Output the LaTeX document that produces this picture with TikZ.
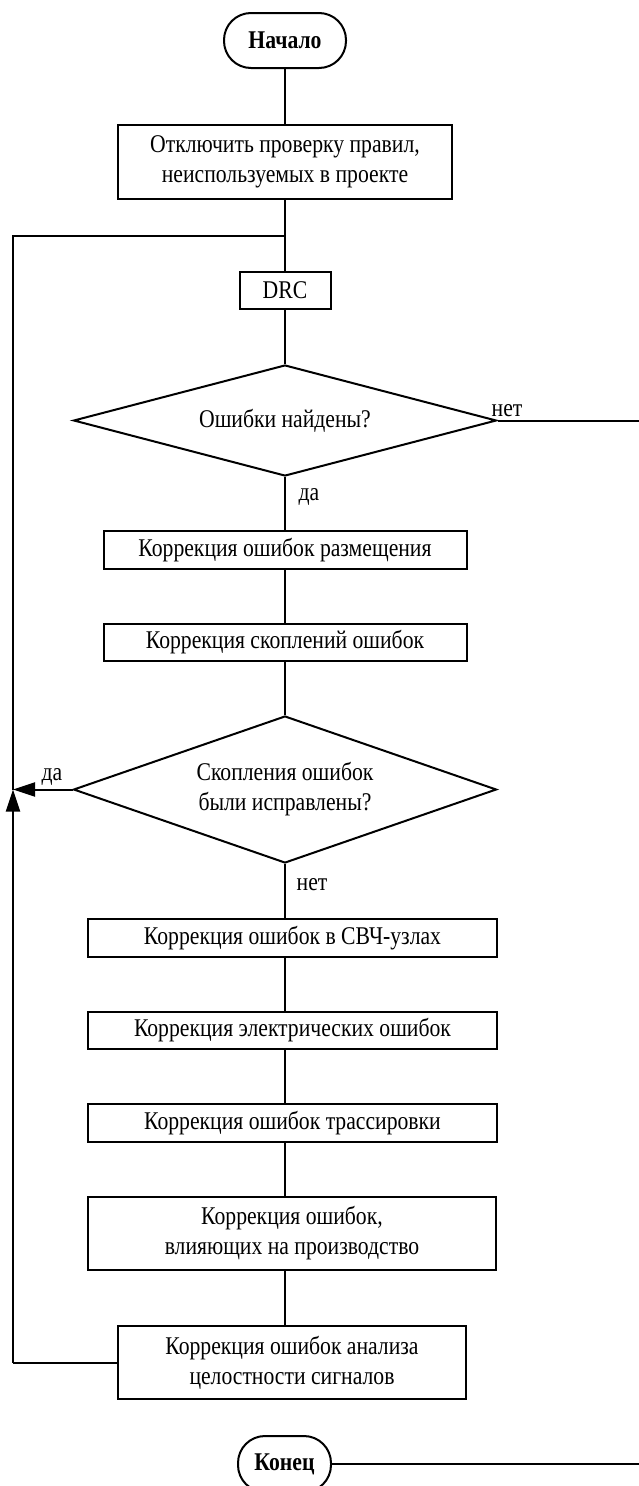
\documentclass[tikz,border=0pt]{standalone}
\usepackage{fontspec}
\setmainfont{Liberation Serif}[FakeStretch=0.85]
\usetikzlibrary{shapes.geometric,arrows.meta}
\begin{document}
\begin{tikzpicture}[x=1pt,y=-1pt,
  every node/.style={font=\fontsize{25.5}{30}\selectfont},
  line/.style={line width=2pt},
  proc/.style={draw,line width=2pt,rectangle,inner sep=0pt,align=center},
  term/.style={draw,line width=2pt,rectangle,rounded corners=27pt,inner sep=0pt,font=\fontsize{25.5}{30}\selectfont\bfseries},
  decis/.style={draw,line width=2pt,diamond,inner sep=0pt,align=center},
  lbl/.style={inner sep=0pt},
  arr/.style={line width=2pt,-{Triangle[length=22pt,width=14pt]}}
]
\useasboundingbox (0,0) rectangle (639,1486);
\node[term,minimum width=122pt,minimum height=55pt] (start) at (285,40.5) {Начало};
\node[proc,minimum width=334pt,minimum height=74pt] (b1) at (285,162) {Отключить проверку правил,\\неиспользуемых в проекте};
\coordinate (J) at (285,236);
\coordinate (JL) at (13,236);
\node[proc,minimum width=91pt,minimum height=37pt] (drc) at (285,290.5) {DRC};
\node[decis,minimum width=423pt,minimum height=111pt,aspect=3.81] (d1) at (285,420.5) {Ошибки найдены?};
\coordinate (NR) at (639,420.5);
\node[proc,minimum width=363pt,minimum height=38pt] (b2) at (285,550) {Коррекция ошибок размещения};
\node[proc,minimum width=363pt,minimum height=37pt] (b3) at (285,642.5) {Коррекция скоплений ошибок};
\node[decis,minimum width=423pt,minimum height=147pt,aspect=2.88] (d2) at (285,789.5) {Скопления ошибок\\были исправлены?};
\coordinate (ML) at (13,789.5);
\node[proc,minimum width=409pt,minimum height=38pt] (b4) at (292.5,938) {Коррекция ошибок в СВЧ-узлах};
\node[proc,minimum width=409pt,minimum height=37pt] (b5) at (292.5,1030.5) {Коррекция электрических ошибок};
\node[proc,minimum width=409pt,minimum height=38pt] (b6) at (292.5,1123) {Коррекция ошибок трассировки};
\node[proc,minimum width=408pt,minimum height=73pt] (b7) at (292,1233.5) {Коррекция ошибок,\\влияющих на производство};
\node[proc,minimum width=348pt,minimum height=73pt] (b8) at (292,1362.5) {Коррекция ошибок анализа\\целостности сигналов};
\coordinate (BL) at (13,1362.5);
\node[term,minimum width=93pt,minimum height=56pt] (end) at (284.5,1464) {Конец};
\coordinate (ER) at (639,1464);

\draw[line] (start) -- (b1);
\draw[line] (b1.south) -- (J) -- (drc.north);
\draw[line] (J) -- (JL) -- (ML);
\draw[line] (drc) -- (d1);
\draw[line] (d1.east) -- (NR);
\node[lbl] (lnet1) at (507,411) {нет};
\draw[line] (d1.south) -- (d1.south |- b2.north);
\node[lbl] (lda1) at (309,497) {да};
\draw[line] (b2) -- (b3);
\draw[line] (b3.south) -- (b3.south |- d2.north);
\draw[arr] (d2.west) -- (ML);
\node[lbl] (lda2) at (52,777) {да};
\draw[line] (d2.south) -- (d2.south |- b4.north);
\node[lbl] (lnet2) at (312,885) {нет};
\draw[line] (d2.south |- b4.south) -- (d2.south |- b5.north);
\draw[line] (d2.south |- b5.south) -- (d2.south |- b6.north);
\draw[line] (d2.south |- b6.south) -- (d2.south |- b7.north);
\draw[line] (d2.south |- b7.south) -- (d2.south |- b8.north);
\draw[line] (b8.west) -- (BL);
\draw[arr] (BL) -- (ML);
\draw[line] (end.east) -- (ER);
\end{tikzpicture}
\end{document}
